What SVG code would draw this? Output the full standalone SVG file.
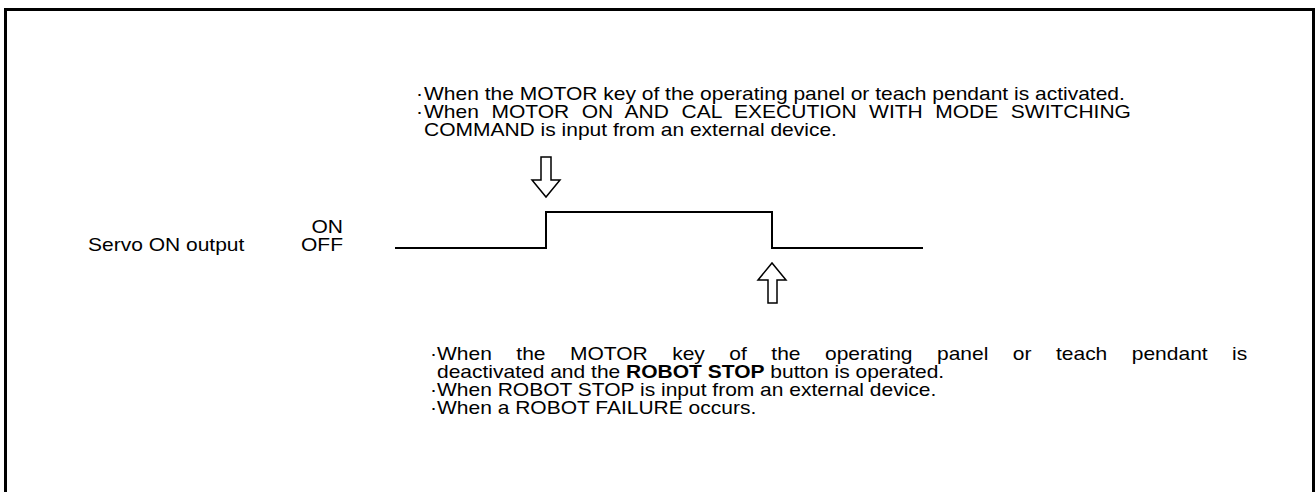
<svg xmlns="http://www.w3.org/2000/svg" width="1316" height="492" viewBox="0 0 1316 492">
<style>
text{font-family:"Liberation Sans",Arial,sans-serif;font-size:19px;fill:#000}
.b{font-weight:bold}
.ln{fill:none;stroke:#000;stroke-width:2}
.ar{fill:#fff;stroke:#000;stroke-width:1.5;stroke-linejoin:miter}
</style>
<rect x="0" y="0" width="1316" height="492" fill="#fff"/>
<path d="M5.5,520 V9.5 H1313.5 V520" fill="none" stroke="#000" stroke-width="3"/>
<g id="top-note">
<text transform="matrix(1.10526,0,0,1,424,0)" x="-7.24" y="100">·<tspan x="0">When the MOTOR key of the operating panel or teach pendant is activated.</tspan><tspan x="-7.24" y="118">·</tspan><tspan x="0" y="118" word-spacing="6.09">When MOTOR ON AND CAL EXECUTION WITH MODE SWITCHING</tspan><tspan x="0" y="136">COMMAND is input from an external device.</tspan></text>
</g>
<g id="labels">
<text transform="matrix(1.10526,0,0,1,343,0)" x="0" y="233" text-anchor="end">ON<tspan x="0" y="251">OFF</tspan></text>
<text transform="matrix(1.10526,0,0,1,88,0)" x="0" y="251">Servo ON output</text>
</g>
<g id="waveform">
<path class="ln" d="M395,248 H546 V212 H772 V248 H923"/>
</g>
<g id="connectors">
<path id="arrow-on" class="ar" d="M541,157 H551 V180 H560 L546,197 L532,180 H541 Z"/>
<path id="arrow-off" class="ar" d="M768,303 V280 H758 L772,263 L786,280 H777 V303 Z"/>
</g>
<g id="bottom-note">
<text transform="matrix(1.10526,0,0,1,437,0)" x="-6.33" y="360">·<tspan x="0" word-spacing="16.87">When the MOTOR key of the operating panel or teach pendant is</tspan><tspan x="0" y="378">deactivated and the <tspan class="b">ROBOT STOP</tspan> button is operated.</tspan><tspan x="-6.33" y="396">·</tspan><tspan x="0" y="396">When ROBOT STOP is input from an external device.</tspan><tspan x="-6.33" y="414">·</tspan><tspan x="0" y="414">When a ROBOT FAILURE occurs.</tspan></text>
</g>
</svg>
